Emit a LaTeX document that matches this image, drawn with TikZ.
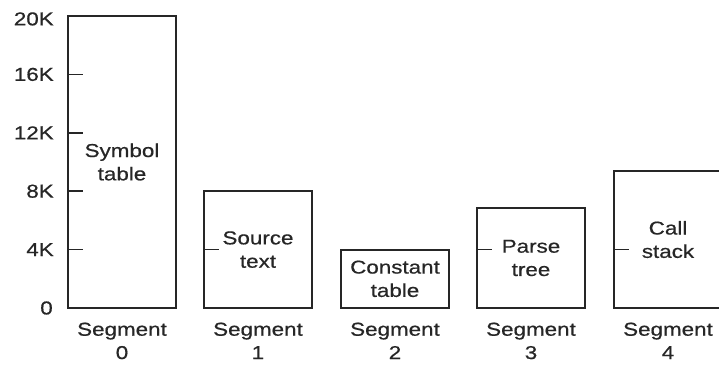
\documentclass[tikz,border=0pt]{standalone}
\usepackage{fontspec}
\setmainfont{Liberation Sans}[FakeStretch=1.2, FakeBold=0.6]
\usetikzlibrary{positioning}

\tikzset{
  segbox/.style={draw=black!85, line width=1.4pt, anchor=south west, outer sep=0pt,
    minimum width=81pt, align=center, text=black!85,
    font=\fontsize{14}{17.5}\selectfont},
  seglabel/.style={align=center, inner sep=0pt, outer sep=0pt, text=black!85,
    font=\fontsize{14}{17.5}\selectfont},
  axislabel/.style={anchor=east, inner sep=0pt, text=black!85,
    font=\fontsize{14}{17.5}\selectfont},
  tickmark/.style={draw=black!85, line width=1.2pt}
}

\begin{document}
\begin{tikzpicture}[x=0.75pt, y=10.95pt]
\useasboundingbox (0,-3.836) rectangle (719,21.096);

% the five segments, heights in K
\node [segbox, minimum height=20*10.95pt] (seg0) at (68, 0) {Symbol\\table};
\node [segbox, minimum height=8*10.95pt] (seg1) at (204, 0) {Source\\text};
\node [segbox, minimum height=4*10.95pt] (seg2) at (341, 0) {Constant\\table};
\node [segbox, minimum height=6.85*10.95pt] (seg3) at (477, 0) {Parse\\tree};
\node [segbox, minimum height=9.38*10.95pt] (seg4) at (614, 0) {Call\\stack};

% ticks
\draw [tickmark] (seg0.west |- 0, 16) -- ++(15, 0);
\draw [tickmark] (seg0.west |- 0, 12) -- ++(15, 0);
\draw [tickmark] (seg0.west |- 0, 8) -- ++(15, 0);
\draw [tickmark] (seg0.west |- 0, 4) -- ++(15, 0);
\draw [tickmark] (seg1.west |- 0, 4) -- ++(15, 0);
\draw [tickmark] (seg3.west |- 0, 4) -- ++(15, 0);
\draw [tickmark] (seg4.west |- 0, 4) -- ++(15, 0);

% axis
\node [axislabel] (k20) at (54, 19.8) {20K};
\node [axislabel] (k16) at (54, 16) {16K};
\node [axislabel] (k12) at (54, 12) {12K};
\node [axislabel] (k8) at (54, 8) {8K};
\node [axislabel] (k4) at (54, 4) {4K};
\node [axislabel] (k0) at (53, 0) {0};

% names below
\node [seglabel, below=11pt of seg0] (name0) {Segment\\0};
\node [seglabel, below=11pt of seg1] (name1) {Segment\\1};
\node [seglabel, below=11pt of seg2] (name2) {Segment\\2};
\node [seglabel, below=11pt of seg3] (name3) {Segment\\3};
\node [seglabel, below=11pt of seg4] (name4) {Segment\\4};
\end{tikzpicture}
\end{document}
